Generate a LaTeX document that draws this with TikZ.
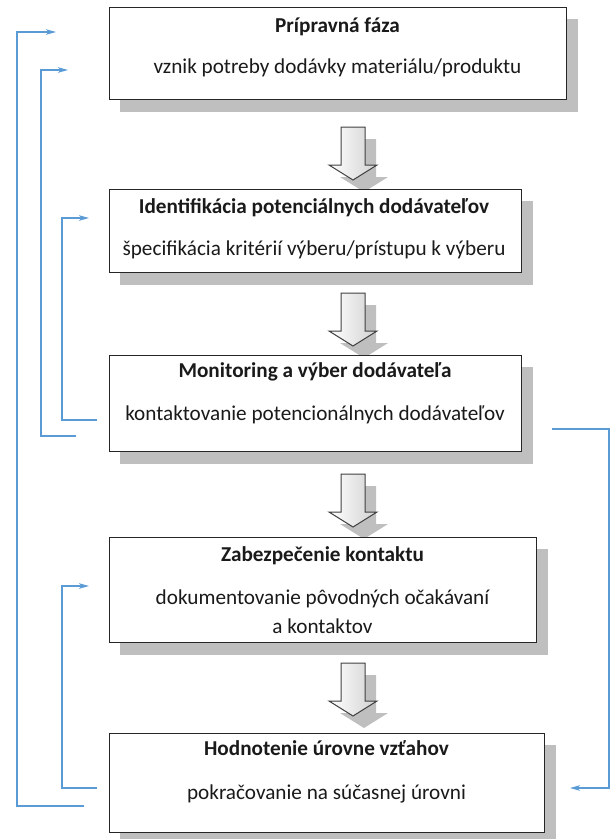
\documentclass[tikz,border=0pt]{standalone}
\usepackage{fontspec}
\setmainfont{Carlito}
\usetikzlibrary{arrows.meta,shadings,backgrounds}

\definecolor{frameblk}{HTML}{262626}
\definecolor{shadowgray}{HTML}{BFBFBF}
\definecolor{linkblue}{HTML}{5B9BD5}
\definecolor{arrowedge}{HTML}{404040}
\definecolor{inktext}{HTML}{1A1A1A}

\tikzset{
  stagebox/.style={draw=frameblk, line width=1.3pt, fill=white, inner sep=0pt, anchor=north west},
  headtext/.style={font=\fontsize{21.2}{25}\selectfont\bfseries, text=inktext, anchor=mid, inner sep=0pt},
  bodytext/.style={font=\fontsize{21.2}{25}\selectfont, text=inktext, anchor=mid, inner sep=0pt},
  feedback/.style={draw=linkblue, line width=1.1pt, -{Stealth[length=10pt,width=5.5pt,inset=2.5pt]}},
  pics/downarrow/.style={code={
    % drop shadow of the block arrow
    \fill[shadowgray] (-1,12) -- (23,12) -- (23,50) -- (35,50) -- (11,65) -- (-13,50) -- (-1,50) -- cycle;
    % the block arrow itself
    \shade[left color=white, right color=black!18, draw=arrowedge, line width=1pt, line join=miter]
      (-12,0) -- (12,0) -- (12,38) -- (24,38) -- (0,53) -- (-24,38) -- (-12,38) -- cycle;
  }}
}

\newcommand{\stageshadow}[1]{%
  \fill[shadowgray] ([shift={(11,12)}]#1.north west) rectangle ([shift={(11,12)}]#1.south east);}

\begin{document}
\begin{tikzpicture}[x=1pt,y=-1pt]
\useasboundingbox (0,0) rectangle (610,839);

% block arrows between the stages
\pic at (353,127) {downarrow};
\pic at (353,293) {downarrow};
\pic at (353,474) {downarrow};
\pic at (353,663) {downarrow};

% stage boxes
\node[stagebox, minimum width=457, minimum height=92]  (s1) at (109,7)   {};
\node[stagebox, minimum width=412, minimum height=83]  (s2) at (109,189) {};
\node[stagebox, minimum width=412, minimum height=96]  (s3) at (109,355) {};
\node[stagebox, minimum width=427, minimum height=105] (s4) at (109,537) {};
\node[stagebox, minimum width=435, minimum height=99]  (s5) at (109,733) {};

% drop shadows underneath the boxes
\begin{scope}[on background layer]
  \stageshadow{s1}
  \stageshadow{s2}
  \stageshadow{s3}
  \stageshadow{s4}
  \stageshadow{s5}
\end{scope}

% stage texts
\node[headtext] (t1a) at (337.5,30)  {Prípravná fáza};
\node[bodytext] (t1b) at (337.5,71)  {vznik potreby dodávky materiálu/produktu};

\node[headtext] (t2a) at (314,211)   {Identifikácia potenciálnych dodávateľov};
\node[bodytext] (t2b) at (314,253)   {špecifikácia kritérií výberu/prístupu k výberu};

\node[headtext] (t3a) at (315,375)   {Monitoring a výber dodávateľa};
\node[bodytext] (t3b) at (315,418)   {kontaktovanie potencionálnych dodávateľov};

\node[headtext] (t4a) at (322.5,559) {Zabezpečenie kontaktu};
\node[bodytext] (t4b) at (322.5,602) {dokumentovanie pôvodných očakávaní};
\begin{scope}
  % the second line runs into the frame and is cut off there
  \clip (109,537) rectangle (536,634);
  \node[bodytext] (t4c) at (322.5,631) {a kontaktov};
\end{scope}

\node[headtext] (t5a) at (326.5,753) {Hodnotenie úrovne vzťahov};
\node[bodytext] (t5b) at (326.5,797) {pokračovanie na súčasnej úrovni};

% feedback loops
\coordinate (f1s) at (84,806);  \coordinate (f1e) at (56,32);
\coordinate (f2s) at (76,436);  \coordinate (f2e) at (68,70);
\coordinate (f3s) at (97,420);  \coordinate (f3e) at (89,218);
\coordinate (f4s) at (97,788);  \coordinate (f4e) at (89,586);
\coordinate (f5s) at (552,429); \coordinate (f5e) at (570,788);

\draw[feedback] (f1s) -- ++(-67,0) |- (f1e);
\draw[feedback] (f2s) -- ++(-35,0) |- (f2e);
\draw[feedback] (f3s) -- ++(-35,0) |- (f3e);
\draw[feedback] (f4s) -- ++(-35,0) |- (f4e);
\draw[feedback] (f5s) -- ++(57,0)  |- (f5e);
\end{tikzpicture}
\end{document}
